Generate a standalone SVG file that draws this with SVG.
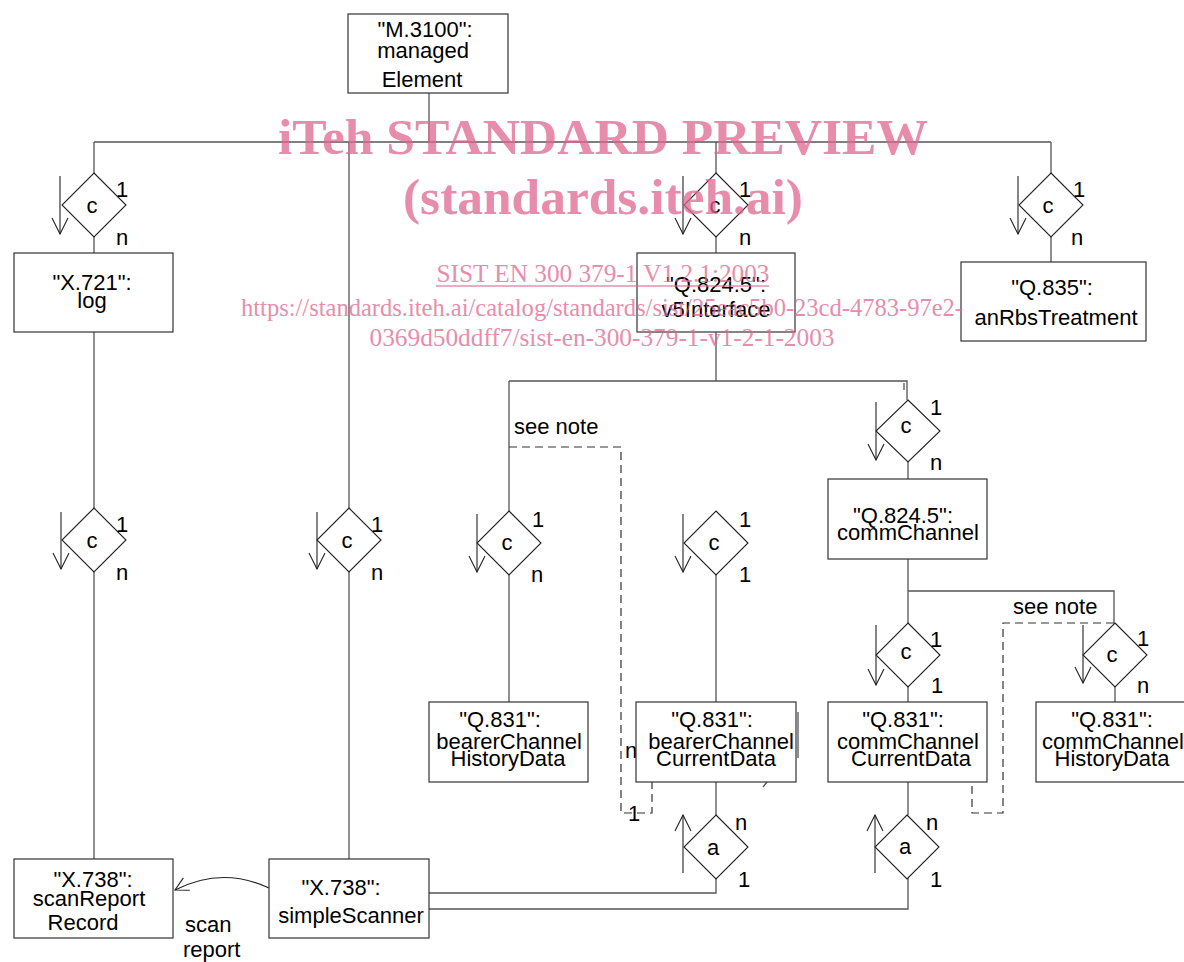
<svg xmlns="http://www.w3.org/2000/svg" width="1184" height="962" viewBox="0 0 1184 962">
<style>
  .bx { fill: #fff; stroke: #333; stroke-width: 1.2; }
  .dm { fill: #fff; stroke: #222; stroke-width: 1.1; }
  .cn { fill: none; stroke: #555; stroke-width: 1.3; }
  .ds { fill: none; stroke: #333; stroke-width: 1.2; stroke-dasharray: 8 5; }
  .ar { fill: none; stroke: #222; stroke-width: 1.1; }
  text { font-family: "Liberation Sans", Arial, sans-serif; font-size: 22px; fill: #000; }
  .m { text-anchor: middle; }
  text.wm1 { font-family: "Liberation Serif", "Times New Roman", serif; font-size: 51px; font-weight: bold; fill: #e06890; opacity: 0.75; text-anchor: middle; }
  text.wm2 { font-family: "Liberation Serif", "Times New Roman", serif; font-size: 25px; fill: #e06890; opacity: 0.75; text-anchor: middle; }
</style>
<defs>
  <marker id="vh" markerUnits="userSpaceOnUse" markerWidth="20" markerHeight="20" refX="0" refY="0" viewBox="-18 -10 20 20" orient="auto">
    <path d="M-16,-8 L0,0 L-16,8" fill="none" stroke="#222" stroke-width="1.1"/>
  </marker>
  <marker id="vh2" markerUnits="userSpaceOnUse" markerWidth="20" markerHeight="20" refX="0" refY="0" viewBox="-18 -10 20 20" orient="auto">
    <path d="M-13,-7 L0,0 L-13,7" fill="none" stroke="#222" stroke-width="1.1"/>
  </marker>
</defs>

<g id="connectors">
  <path class="cn" d="M429,93 V142"/>
  <path class="cn" d="M94,142 H1051"/>
  <path class="cn" d="M94,142 V173 M94,237 V253 M94,332 V508 M94,572 V859"/>
  <path class="cn" d="M349,142 V508 M349,572 V859"/>
  <path class="cn" d="M716,142 V173 M716,237 V253 M716,332 V381"/>
  <path class="cn" d="M509,381 H907 V400 M904,383 V390 M509,381 V511"/>
  <path class="cn" d="M509,575 V702 M716,575 V702"/>
  <path class="cn" d="M716,782 V815 M716,878 V893 H429"/>
  <path class="cn" d="M908,462 V479 M908,559 V623 M908,591 H1114 V623"/>
  <path class="cn" d="M908,687 V702 M908,782 V815 M908,878 V909 H429"/>
  <path class="cn" d="M1115,687 V702"/>
  <path class="cn" d="M1051,142 V173 M1051,237 V262"/>
  <path class="cn" d="M798,712 V758 M763,787 L767,782"/>
  <path class="ds" d="M509,447 H621 V813 H652 V782"/>
  <path class="ds" d="M1114,623 H1003 V813 H972 V782"/>
  <path class="ar" d="M269,888 Q222,866 175,890" marker-end="url(#vh2)"/>
  <text x="185" y="932">scan</text>
  <text x="183" y="957">report</text>
  <text x="514" y="434">see note</text>
  <text x="1013" y="614">see note</text>
  <text x="625" y="758">n</text>
  <text x="628" y="821">1</text>
</g>

<g id="managedElement">
  <rect class="bx" x="348" y="14" width="160" height="79"/>
  <text class="m" x="425" y="37">"M.3100":</text>
  <text class="m" x="423" y="58">managed</text>
  <text class="m" x="422" y="87">Element</text>
</g>

<g id="log">
  <rect class="bx" x="14" y="253" width="159" height="79"/>
  <text class="m" x="92" y="290">"X.721":</text>
  <text class="m" x="92" y="308">log</text>
</g>

<g id="scanReportRecord">
  <rect class="bx" x="14" y="859" width="159" height="79"/>
  <text class="m" x="93" y="887">"X.738":</text>
  <text class="m" x="89" y="906">scanReport</text>
  <text class="m" x="83" y="930">Record</text>
</g>

<g id="simpleScanner">
  <rect class="bx" x="269" y="859" width="160" height="79"/>
  <text class="m" x="341" y="895">"X.738":</text>
  <text class="m" x="351" y="923">simpleScanner</text>
</g>

<g id="v5Interface">
  <rect class="bx" x="637" y="253" width="158" height="79"/>
  <text class="m" x="716" y="292">"Q.824.5":</text>
  <text class="m" x="716" y="317">v5Interface</text>
</g>

<g id="anRbsTreatment">
  <rect class="bx" x="961" y="262" width="185" height="79"/>
  <text class="m" x="1052" y="295">"Q.835":</text>
  <text class="m" x="1056" y="325">anRbsTreatment</text>
</g>

<g id="commChannel">
  <rect class="bx" x="828" y="479" width="159" height="80"/>
  <text class="m" x="903" y="523">"Q.824.5":</text>
  <text class="m" x="908" y="540">commChannel</text>
</g>

<g id="bearerChannelHistoryData">
  <rect class="bx" x="429" y="702" width="159" height="80"/>
  <text class="m" x="500" y="727">"Q.831":</text>
  <text class="m" x="509" y="749">bearerChannel</text>
  <text class="m" x="508" y="766">HistoryData</text>
</g>

<g id="bearerChannelCurrentData">
  <rect class="bx" x="636" y="702" width="160" height="80"/>
  <text class="m" x="712" y="727">"Q.831":</text>
  <text class="m" x="721" y="749">bearerChannel</text>
  <text class="m" x="716" y="766">CurrentData</text>
</g>

<g id="commChannelCurrentData">
  <rect class="bx" x="828" y="702" width="159" height="80"/>
  <text class="m" x="903" y="727">"Q.831":</text>
  <text class="m" x="908" y="749">commChannel</text>
  <text class="m" x="911" y="766">CurrentData</text>
</g>

<g id="commChannelHistoryData">
  <rect class="bx" x="1036" y="702" width="170" height="80"/>
  <text class="m" x="1112" y="727">"Q.831":</text>
  <text class="m" x="1113" y="749">commChannel</text>
  <text class="m" x="1112" y="766">HistoryData</text>
</g>

<g id="c-log">
  <polygon class="dm" points="94,173 126,205 94,237 62,205"/>
  <path class="ar" d="M60,176 V234" marker-end="url(#vh)"/>
  <text class="m" x="92" y="213">c</text>
  <text x="116" y="197">1</text>
  <text x="116" y="245">n</text>
</g>
<g id="c-v5Interface">
  <polygon class="dm" points="716,173 748,205 716,237 684,205"/>
  <path class="ar" d="M683,176 V234" marker-end="url(#vh)"/>
  <text class="m" x="715" y="213">c</text>
  <text x="739" y="197">1</text>
  <text x="739" y="245">n</text>
</g>
<g id="c-anRbsTreatment">
  <polygon class="dm" points="1051,173 1083,205 1051,237 1019,205"/>
  <path class="ar" d="M1018,176 V234" marker-end="url(#vh)"/>
  <text class="m" x="1048" y="213">c</text>
  <text x="1073" y="197">1</text>
  <text x="1071" y="245">n</text>
</g>
<g id="c-scanReportRecord">
  <polygon class="dm" points="94,508 126,540 94,572 62,540"/>
  <path class="ar" d="M61,512 V569" marker-end="url(#vh)"/>
  <text class="m" x="92" y="548">c</text>
  <text x="116" y="532">1</text>
  <text x="116" y="580">n</text>
</g>
<g id="c-simpleScanner">
  <polygon class="dm" points="349,508 381,540 349,572 317,540"/>
  <path class="ar" d="M317,512 V569" marker-end="url(#vh)"/>
  <text class="m" x="347" y="548">c</text>
  <text x="371" y="532">1</text>
  <text x="371" y="580">n</text>
</g>
<g id="c-commChannel">
  <polygon class="dm" points="908,400 940,431 908,462 876,431"/>
  <path class="ar" d="M876,402 V460" marker-end="url(#vh)"/>
  <text class="m" x="906" y="433">c</text>
  <text x="930" y="415">1</text>
  <text x="930" y="470">n</text>
</g>
<g id="c-bearerChannelHistoryData">
  <polygon class="dm" points="509,511 541,543 509,575 477,543"/>
  <path class="ar" d="M477,514 V572" marker-end="url(#vh)"/>
  <text class="m" x="507" y="550">c</text>
  <text x="532" y="527">1</text>
  <text x="531" y="582">n</text>
</g>
<g id="c-bearerChannelCurrentData">
  <polygon class="dm" points="716,511 748,543 716,575 684,543"/>
  <path class="ar" d="M683,514 V572" marker-end="url(#vh)"/>
  <text class="m" x="714" y="550">c</text>
  <text x="739" y="527">1</text>
  <text x="739" y="582">1</text>
</g>
<g id="c-commChannelCurrentData">
  <polygon class="dm" points="908,623 940,655 908,687 876,655"/>
  <path class="ar" d="M876,625 V685" marker-end="url(#vh)"/>
  <text class="m" x="906" y="659">c</text>
  <text x="930" y="647">1</text>
  <text x="931" y="693">1</text>
</g>
<g id="c-commChannelHistoryData">
  <polygon class="dm" points="1115,623 1147,655 1115,687 1083,655"/>
  <path class="ar" d="M1083,625 V683" marker-end="url(#vh)"/>
  <text class="m" x="1112" y="662">c</text>
  <text x="1137" y="646">1</text>
  <text x="1137" y="693">n</text>
</g>
<g id="a-bearerChannelCurrentData">
  <polygon class="dm" points="716,815 748,847 716,879 684,847"/>
  <path class="ar" d="M683,873 V815" marker-end="url(#vh)"/>
  <text class="m" x="713" y="855">a</text>
  <text x="735" y="830">n</text>
  <text x="738" y="887">1</text>
</g>
<g id="a-commChannelCurrentData">
  <polygon class="dm" points="907,815 939,847 907,879 875,847"/>
  <path class="ar" d="M875,873 V815" marker-end="url(#vh)"/>
  <text class="m" x="905" y="854">a</text>
  <text x="926" y="830">n</text>
  <text x="930" y="887">1</text>
</g>

<g id="watermark">
  <text class="wm1" x="603" y="154" textLength="650" lengthAdjust="spacingAndGlyphs">iTeh STANDARD PREVIEW</text>
  <text class="wm1" x="603" y="214" textLength="400" lengthAdjust="spacingAndGlyphs">(standards.iteh.ai)</text>
  <text class="wm2" x="603" y="282" textLength="333" lengthAdjust="spacingAndGlyphs">SIST EN 300 379-1 V1.2.1:2003</text>
  <line x1="436" y1="286" x2="769" y2="286" stroke="#e06890" stroke-width="1.5" opacity="0.75"/>
  <text class="wm2" x="602" y="316" textLength="722" lengthAdjust="spacingAndGlyphs">https://standards.iteh.ai/catalog/standards/sist/25eac5b0-23cd-4783-97e2-</text>
  <text class="wm2" x="602" y="346" textLength="465" lengthAdjust="spacingAndGlyphs">0369d50ddff7/sist-en-300-379-1-v1-2-1-2003</text>
</g>
</svg>
